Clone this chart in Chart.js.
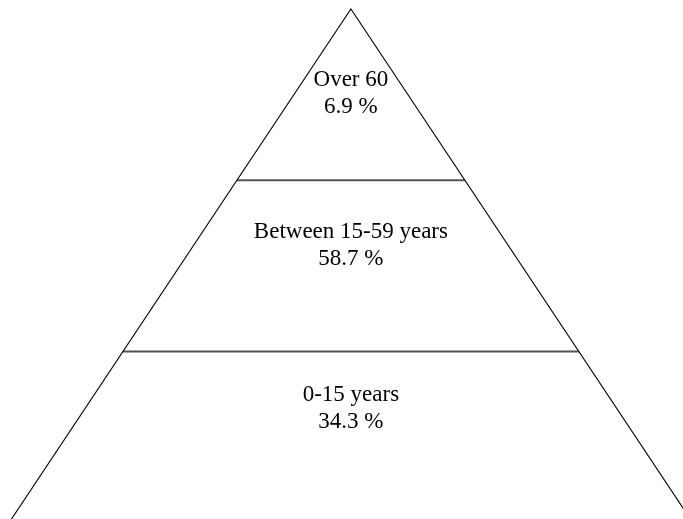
<!DOCTYPE html>
<html>
<head>
<meta charset="utf-8">
<script src="https://cdn.jsdelivr.net/npm/chart.js@4"></script>
<style>
  html, body { margin: 0; padding: 0; background: #fff; }
  #wrap { width: 683px; height: 519px; }
</style>
</head>
<body>
<div id="wrap"><canvas id="pyramid"></canvas></div>
<script>
// layers, top to bottom
const layerNames = ["Over 60", "Between 15-59 years", "0-15 years"];
const layerValues = [6.9, 58.7, 34.3];

// where the label pair sits inside each layer (0 = layer bottom, 1 = layer top)
const labelSpot = [0.472, 0.586, 0.633];

const n = layerNames.length;
const halfWidth = y => (n - y) / n;

// triangle outline
const outline = [
  { x: -halfWidth(0), y: 0 },
  { x: 0, y: n },
  { x: halfWidth(0), y: 0 }
];

// horizontal separators between layers
const dividers = [];
for (let k = 1; k < n; k++) {
  dividers.push({
    label: "div" + k,
    data: [{ x: -halfWidth(k), y: k }, { x: halfWidth(k), y: k }],
    showLine: true,
    borderColor: "#555",
    borderWidth: 2,
    pointRadius: 0
  });
}

const labelPlugin = {
  id: "layerLabels",
  afterDatasetsDraw(chart) {
    const { ctx, scales } = chart;
    ctx.save();
    ctx.font = "23px 'Liberation Serif', 'Times New Roman', serif";
    ctx.fillStyle = "#000";
    ctx.textAlign = "center";
    ctx.textBaseline = "alphabetic";
    layerNames.forEach((name, i) => {
      const bottom = n - 1 - i;
      const cy = scales.y.getPixelForValue(bottom + labelSpot[i]);
      const cx = scales.x.getPixelForValue(0);
      ctx.fillText(name, cx, cy - 13.5);
      ctx.fillText(layerValues[i].toFixed(1) + " %", cx, cy + 13.5);
    });
    ctx.restore();
  }
};

new Chart(document.getElementById("pyramid").getContext("2d"), {
  type: "scatter",
  data: {
    datasets: [
      {
        label: "outline",
        data: outline,
        showLine: true,
        borderColor: "#000",
        borderWidth: 1.1,
        pointRadius: 0
      },
      ...dividers
    ]
  },
  options: {
    responsive: true,
    maintainAspectRatio: false,
    animation: false,
    layout: { padding: 0 },
    plugins: {
      legend: { display: false },
      tooltip: { enabled: false }
    },
    scales: {
      x: { type: "linear", display: false, min: -1.026, max: 0.971 },
      y: { type: "linear", display: false, min: 0.023, max: 3.052 }
    }
  },
  plugins: [labelPlugin]
});
</script>
</body>
</html>
